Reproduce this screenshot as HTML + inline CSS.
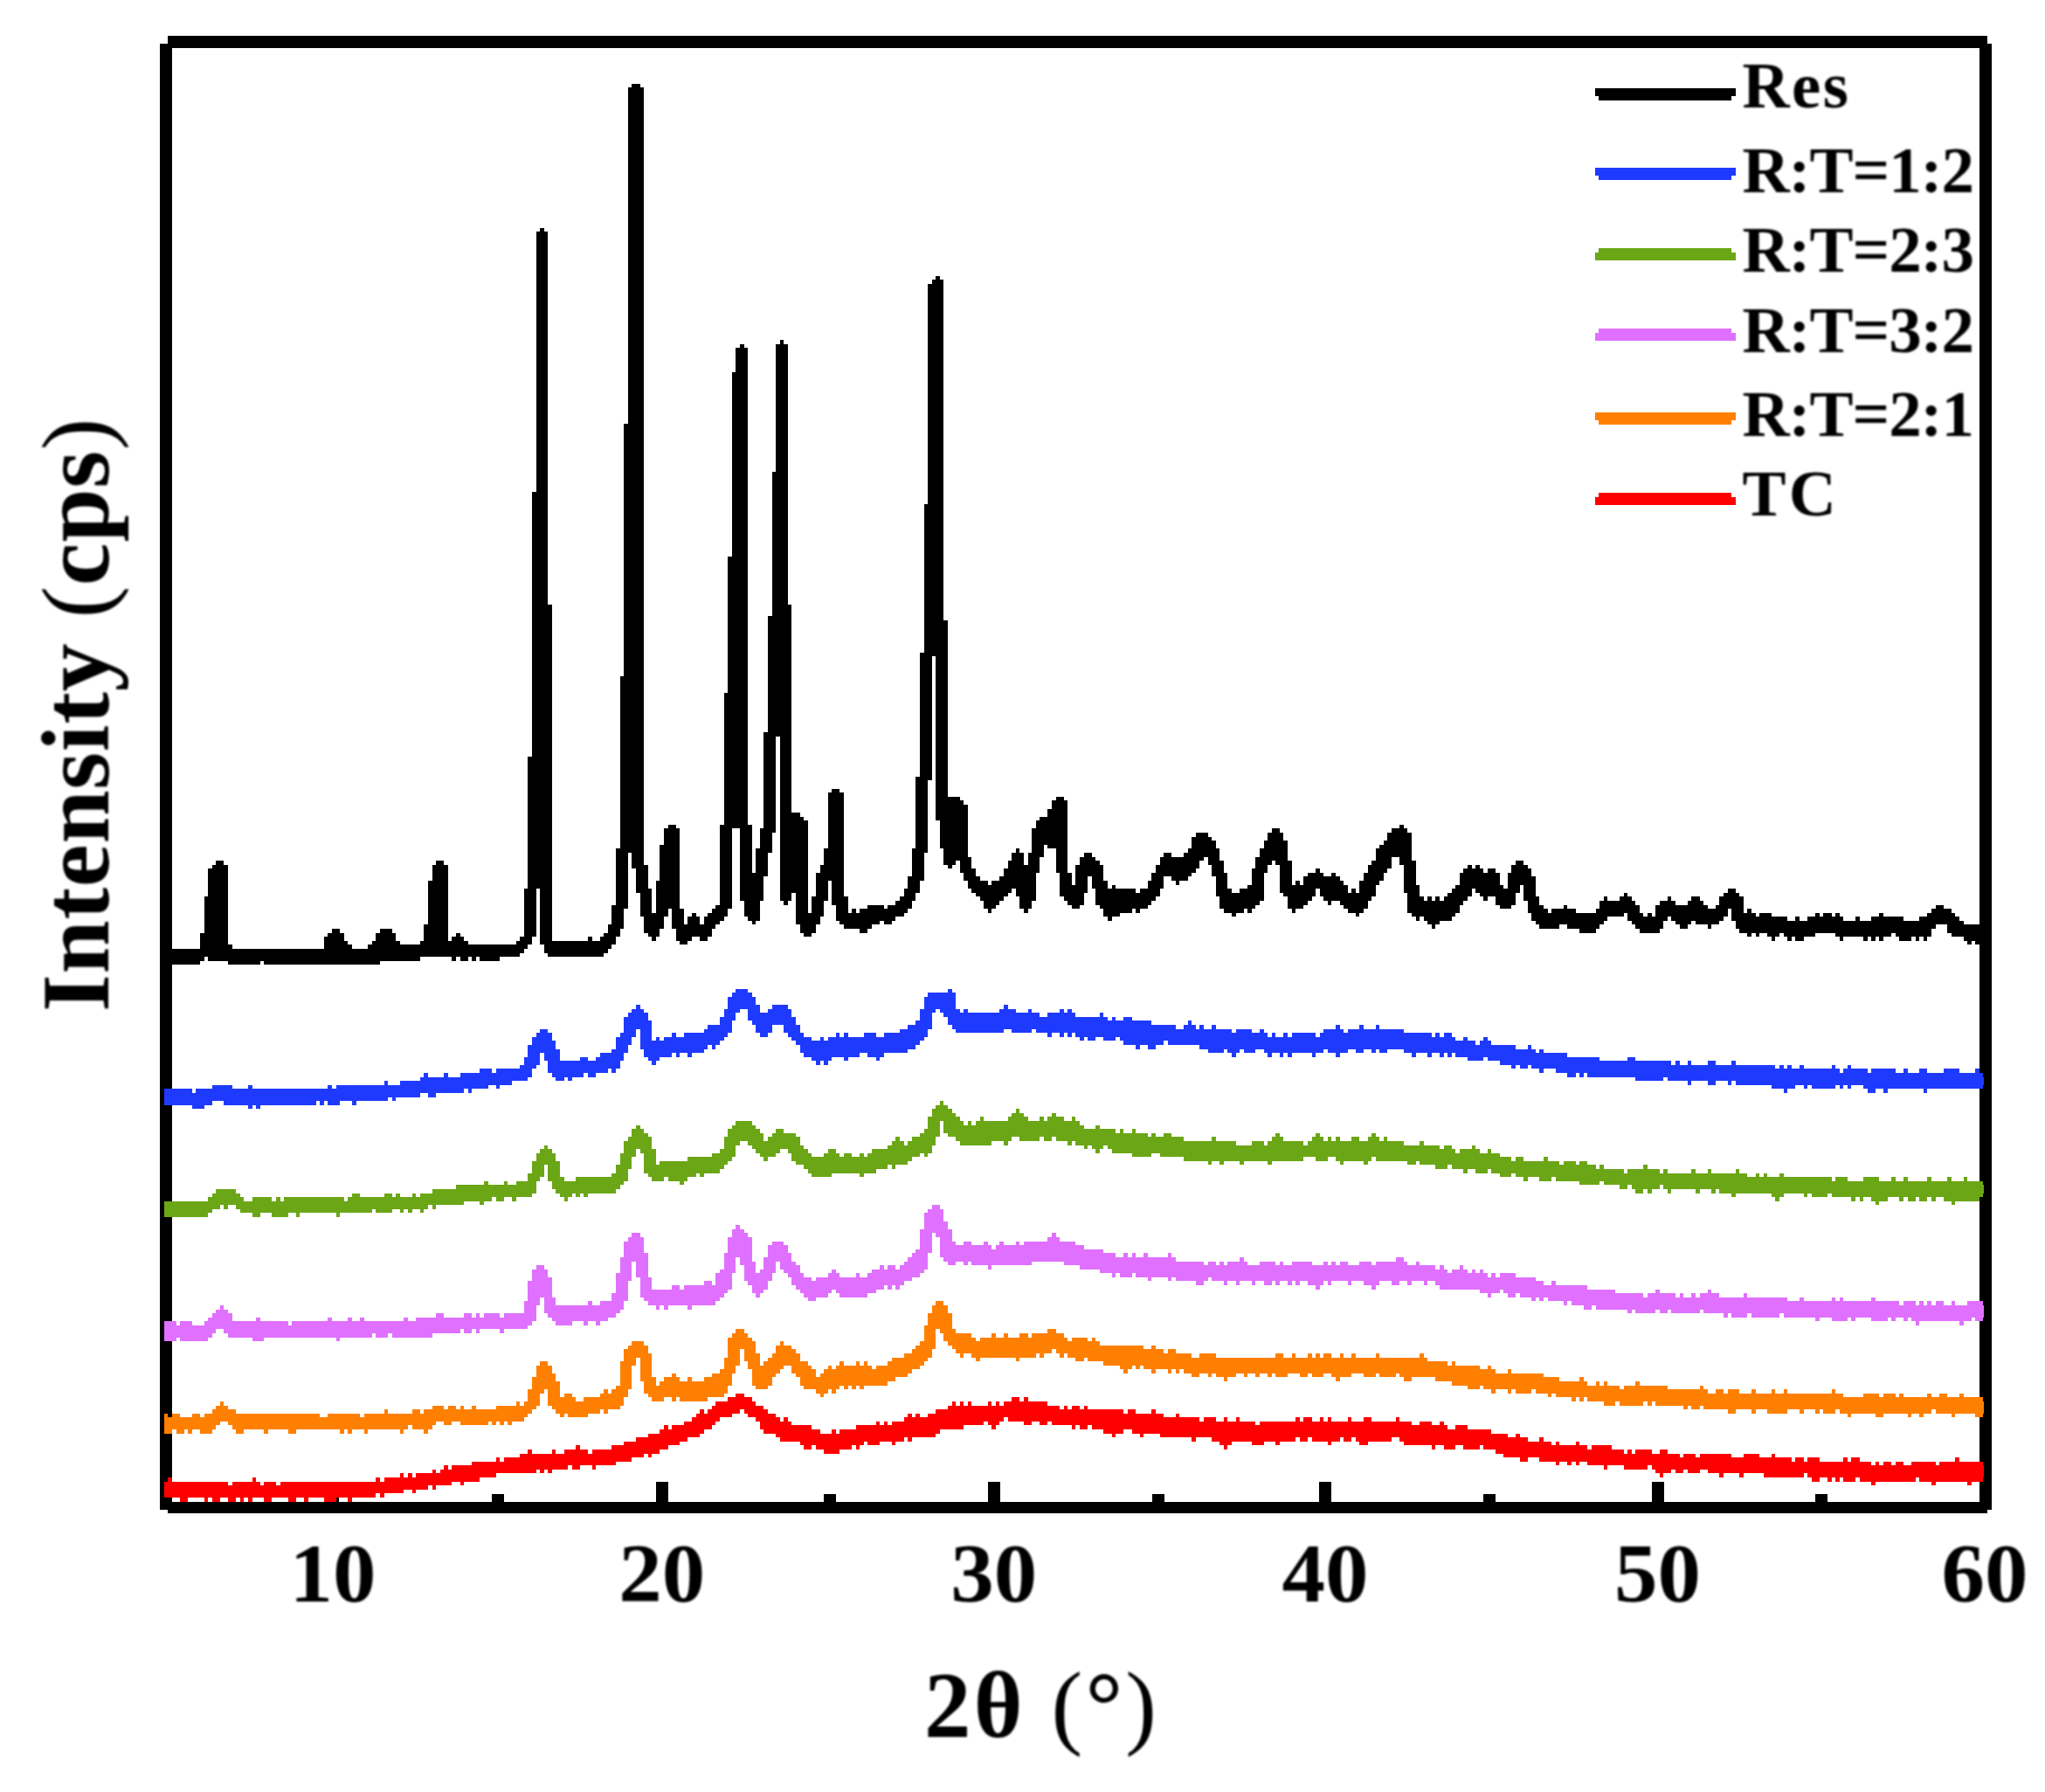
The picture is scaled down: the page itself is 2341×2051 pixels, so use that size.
<!DOCTYPE html>
<html lang="en"><head><meta charset="utf-8"><title>XRD patterns</title>
<style>html,body{margin:0;padding:0;background:#fff;overflow:hidden}svg{display:block}text{font-family:"Liberation Serif","Times New Roman",Times,serif;font-weight:bold;fill:#000;filter:url(#soft)}</style></head>
<body>
<svg width="2341" height="2051" viewBox="0 0 2341 2051">
<defs><filter id="soft" x="-5%" y="-5%" width="110%" height="110%"><feGaussianBlur stdDeviation="1"/></filter></defs>
<rect width="2341" height="2051" fill="#fff"/>
<g fill="#000" shape-rendering="crispEdges">
<rect x="192" y="41" width="2083" height="14"/>
<rect x="192" y="1719" width="2083" height="13"/>
<rect x="183" y="50" width="14" height="1678"/>
<rect x="2266" y="50" width="14" height="1678"/>
<rect x="374" y="1696" width="13.5" height="24"/>
<rect x="751" y="1696" width="13.5" height="24"/>
<rect x="1131" y="1696" width="13.5" height="24"/>
<rect x="1510" y="1696" width="13.5" height="24"/>
<rect x="1891" y="1696" width="13.5" height="24"/>
<rect x="563" y="1710" width="13.5" height="10"/>
<rect x="943" y="1710" width="13.5" height="10"/>
<rect x="1319" y="1710" width="13.5" height="10"/>
<rect x="1698" y="1710" width="13.5" height="10"/>
<rect x="2078" y="1710" width="13.5" height="10"/>
</g>
<g shape-rendering="crispEdges">
<path fill="#000000" d="M723 96h10v898h-10zM719 100h4v876h-4zM733 100h4v949h-4zM618 261h5v820h-5zM614 265h4v752h-4zM623 265h4v826h-4zM1071 316h5v623h-5zM1067 320h4v431h-4zM1076 320h4v651h-4zM1062 325h5v568h-5zM893 389h4v642h-4zM847 394h5v637h-5zM888 394h5v449h-5zM897 394h5v642h-5zM842 398h5v550h-5zM852 398h4v651h-4zM838 426h4v522h-4zM714 485h5v555h-5zM884 540h4v413h-4zM609 563h5v509h-5zM1058 577h4v399h-4zM833 637h5v403h-5zM627 692h5v403h-5zM902 692h4v339h-4zM879 705h5v271h-5zM1080 710h5v280h-5zM1053 747h5v261h-5zM710 774h4v289h-4zM829 793h4v256h-4zM874 838h5v165h-5zM604 866h5v215h-5zM1048 889h5v133h-5zM952 903h9v133h-9zM948 907h4v101h-4zM961 907h5v151h-5zM1085 912h14v73h-14zM1209 912h9v87h-9zM1099 916h4v83h-4zM1204 916h5v55h-5zM1218 916h4v115h-4zM1103 921h5v87h-5zM1199 926h5v45h-5zM906 930h10v92h-10zM916 935h4v133h-4zM1190 935h9v32h-9zM920 939h5v133h-5zM1186 939h4v60h-4zM765 944h9v96h-9zM824 944h5v110h-5zM856 944h5v110h-5zM1602 944h5v46h-5zM760 948h5v101h-5zM774 948h4v129h-4zM870 948h4v83h-4zM1181 948h5v83h-5zM1456 948h9v37h-9zM1593 948h9v33h-9zM1607 948h4v74h-4zM1369 953h14v28h-14zM1451 953h5v37h-5zM1465 953h4v69h-4zM1588 953h5v41h-5zM1611 953h5v92h-5zM1364 958h5v41h-5zM1383 958h4v32h-4zM1387 962h5v41h-5zM1447 962h4v37h-4zM1469 962h5v64h-5zM1584 962h4v37h-4zM755 967h5v96h-5zM1190 967h5v14h-5zM1579 967h5v41h-5zM705 971h5v101h-5zM865 971h5v83h-5zM943 971h5v60h-5zM1044 971h4v60h-4zM1163 971h4v55h-4zM1360 971h4v32h-4zM1392 971h4v55h-4zM1442 971h5v60h-5zM1575 971h4v42h-4zM1158 976h5v41h-5zM1167 976h5v64h-5zM1177 976h4v64h-4zM1241 976h9v27h-9zM1332 976h9v27h-9zM1355 976h5v32h-5zM1108 981h4v36h-4zM1236 981h5v55h-5zM1250 981h4v36h-4zM1328 981h4v36h-4zM1341 981h14v27h-14zM1369 981h9v4h-9zM1437 981h5v55h-5zM247 985h9v115h-9zM499 985h9v110h-9zM1085 985h9v5h-9zM1154 985h4v37h-4zM1254 985h5v51h-5zM1369 985h4v9h-4zM1396 985h5v55h-5zM1460 985h5v5h-5zM1474 985h5v55h-5zM1570 985h5v41h-5zM1616 985h5v64h-5zM1735 985h9v28h-9zM243 990h4v110h-4zM256 990h5v110h-5zM495 990h4v105h-4zM508 990h5v105h-5zM737 990h5v78h-5zM939 990h4v59h-4zM1085 990h5v4h-5zM1172 990h5v55h-5zM1231 990h5v50h-5zM1259 990h4v50h-4zM1323 990h5v36h-5zM1566 990h4v41h-4zM1680 990h5v36h-5zM1689 990h5v32h-5zM1730 990h5v46h-5zM1744 990h5v41h-5zM238 994h5v106h-5zM728 994h5v28h-5zM1112 994h5v28h-5zM1149 994h5v32h-5zM1433 994h4v46h-4zM1506 994h5v23h-5zM1675 994h5v37h-5zM1685 994h4v23h-4zM1694 994h4v32h-4zM1703 994h9v32h-9zM1749 994h4v51h-4zM861 999h4v59h-4zM934 999h5v59h-5zM1213 999h5v27h-5zM1222 999h5v37h-5zM1318 999h5v32h-5zM1401 999h4v46h-4zM1497 999h9v27h-9zM1511 999h4v27h-4zM1524 999h5v32h-5zM1561 999h5v41h-5zM1671 999h4v37h-4zM1698 999h5v32h-5zM1712 999h5v37h-5zM1726 999h4v41h-4zM1039 1003h5v37h-5zM1117 1003h5v23h-5zM1144 1003h5v28h-5zM1241 1003h4v19h-4zM1492 1003h5v33h-5zM1515 1003h9v28h-9zM1529 1003h5v28h-5zM1753 1003h5v51h-5zM490 1008h5v87h-5zM751 1008h4v64h-4zM1122 1008h9v23h-9zM1135 1008h9v28h-9zM1263 1008h5v41h-5zM1314 1008h4v28h-4zM1346 1008h4v5h-4zM1483 1008h5v32h-5zM1534 1008h4v28h-4zM1556 1008h5v37h-5zM1131 1013h4v32h-4zM1227 1013h4v27h-4zM1273 1013h4v36h-4zM1428 1013h5v32h-5zM1479 1013h4v32h-4zM1488 1013h4v27h-4zM1538 1013h5v27h-5zM1621 1013h4v41h-4zM1666 1013h5v32h-5zM1717 1013h4v27h-4zM1735 1013h5v9h-5zM600 1017h4v69h-4zM742 1017h4v55h-4zM1035 1017h4v28h-4zM1268 1017h5v37h-5zM1277 1017h23v23h-23zM1305 1017h9v23h-9zM1405 1017h5v28h-5zM1419 1017h9v23h-9zM1547 1017h5v28h-5zM1662 1017h4v32h-4zM1721 1017h5v23h-5zM1978 1017h9v23h-9zM911 1022h5v36h-5zM1300 1022h5v23h-5zM1410 1022h9v23h-9zM1543 1022h4v23h-4zM1552 1022h4v27h-4zM1657 1022h5v32h-5zM1859 1022h4v23h-4zM1973 1022h5v27h-5zM1987 1022h4v41h-4zM234 1026h4v69h-4zM929 1026h5v42h-5zM966 1026h5v37h-5zM1030 1026h5v23h-5zM1497 1026h5v5h-5zM1625 1026h5v23h-5zM1634 1026h5v32h-5zM1643 1026h5v32h-5zM1653 1026h4v28h-4zM1758 1026h4v32h-4zM1836 1026h4v28h-4zM1854 1026h5v23h-5zM1863 1026h5v28h-5zM1909 1026h4v23h-4zM1936 1026h10v28h-10zM1968 1026h5v28h-5zM1991 1026h5v42h-5zM1025 1031h5v18h-5zM1126 1031h5v9h-5zM1520 1031h4v5h-4zM1630 1031h4v23h-4zM1639 1031h4v32h-4zM1648 1031h5v23h-5zM1831 1031h5v27h-5zM1840 1031h14v18h-14zM1868 1031h4v27h-4zM1900 1031h9v23h-9zM1913 1031h5v23h-5zM1932 1031h4v27h-4zM1946 1031h4v27h-4zM700 1036h5v45h-5zM819 1036h5v22h-5zM957 1036h4v18h-4zM993 1036h19v18h-19zM1016 1036h9v18h-9zM1135 1036h5v4h-5zM1762 1036h5v27h-5zM1790 1036h4v22h-4zM1872 1036h5v27h-5zM1895 1036h5v32h-5zM1918 1036h14v22h-14zM1950 1036h5v22h-5zM1964 1036h4v22h-4zM2216 1036h9v22h-9zM769 1040h5v23h-5zM778 1040h5v41h-5zM815 1040h4v23h-4zM975 1040h5v23h-5zM984 1040h9v28h-9zM1012 1040h4v18h-4zM1277 1040h19v5h-19zM1419 1040h5v5h-5zM1767 1040h5v23h-5zM1776 1040h14v18h-14zM1794 1040h10v23h-10zM1827 1040h4v23h-4zM1955 1040h9v18h-9zM1982 1040h5v14h-5zM2000 1040h5v32h-5zM2211 1040h5v23h-5zM2225 1040h9v18h-9zM746 1045h5v32h-5zM792 1045h5v27h-5zM810 1045h5v27h-5zM925 1045h4v27h-4zM971 1045h4v18h-4zM980 1045h4v18h-4zM1277 1045h5v4h-5zM1410 1045h5v4h-5zM1772 1045h4v18h-4zM1804 1045h23v18h-23zM1877 1045h4v23h-4zM1886 1045h5v23h-5zM1996 1045h4v23h-4zM2005 1045h5v23h-5zM2014 1045h14v23h-14zM2078 1045h5v23h-5zM2087 1045h10v23h-10zM2101 1045h5v27h-5zM2151 1045h5v32h-5zM2206 1045h5v27h-5zM2234 1045h4v27h-4zM787 1049h5v28h-5zM797 1049h4v23h-4zM806 1049h4v28h-4zM1881 1049h5v19h-5zM1891 1049h4v19h-4zM2010 1049h4v23h-4zM2028 1049h18v19h-18zM2055 1049h5v28h-5zM2069 1049h9v23h-9zM2083 1049h4v19h-4zM2097 1049h4v19h-4zM2106 1049h4v28h-4zM2124 1049h5v23h-5zM2142 1049h9v23h-9zM2156 1049h23v19h-23zM2197 1049h9v23h-9zM2238 1049h5v23h-5zM993 1054h14v4h-14zM1016 1054h5v4h-5zM1900 1054h4v9h-4zM1941 1054h5v4h-5zM2046 1054h9v18h-9zM2060 1054h9v18h-9zM2110 1054h14v18h-14zM2129 1054h13v18h-13zM2179 1054h18v18h-18zM2243 1054h5v18h-5zM485 1058h5v37h-5zM696 1058h4v28h-4zM783 1058h4v23h-4zM801 1058h5v19h-5zM993 1058h5v5h-5zM1776 1058h9v5h-9zM1923 1058h9v5h-9zM1955 1058h4v5h-4zM2229 1058h5v10h-5zM2248 1058h20v19h-20zM380 1063h9v41h-9zM435 1063h14v37h-14zM1808 1063h19v5h-19zM229 1068h5v32h-5zM375 1068h5v36h-5zM389 1068h5v36h-5zM430 1068h5v36h-5zM449 1068h4v32h-4zM522 1068h5v27h-5zM691 1068h5v23h-5zM2023 1068h14v4h-14zM2042 1068h4v4h-4zM2156 1068h9v4h-9zM2170 1068h9v4h-9zM371 1072h4v32h-4zM517 1072h5v28h-5zM527 1072h4v28h-4zM595 1072h5v19h-5zM673 1072h5v23h-5zM687 1072h4v23h-4zM2028 1072h4v5h-4zM2046 1072h5v5h-5zM2060 1072h5v5h-5zM2133 1072h5v5h-5zM2142 1072h5v5h-5zM2174 1072h14v5h-14zM2193 1072h4v5h-4zM2202 1072h4v5h-4zM394 1077h4v27h-4zM426 1077h4v27h-4zM453 1077h5v23h-5zM481 1077h4v18h-4zM513 1077h4v18h-4zM531 1077h5v23h-5zM591 1077h4v18h-4zM632 1077h41v18h-41zM678 1077h9v18h-9zM2252 1077h5v4h-5zM2261 1077h5v4h-5zM261 1081h5v23h-5zM398 1081h5v23h-5zM421 1081h5v23h-5zM458 1081h23v19h-23zM536 1081h55v14h-55zM197 1086h32v18h-32zM266 1086h105v14h-105zM403 1086h18v18h-18zM540 1095h5v5h-5zM549 1095h23v5h-23zM266 1100h32v4h-32zM302 1100h69v4h-69z"/>
<path fill="#1F3AFF" d="M842 1132h14v23h-14zM1085 1132h5v41h-5zM838 1136h4v32h-4zM856 1136h5v32h-5zM1062 1136h23v19h-23zM1090 1136h4v42h-4zM833 1141h5v41h-5zM861 1141h4v32h-4zM1058 1141h4v46h-4zM728 1150h5v28h-5zM865 1150h5v32h-5zM884 1150h18v23h-18zM1149 1150h5v28h-5zM723 1155h5v32h-5zM733 1155h4v46h-4zM829 1155h4v32h-4zM842 1155h5v4h-5zM879 1155h5v27h-5zM902 1155h4v32h-4zM1053 1155h5v36h-5zM1062 1155h9v4h-9zM1076 1155h9v4h-9zM1094 1155h5v27h-5zM1103 1155h5v27h-5zM1144 1155h5v27h-5zM1154 1155h9v23h-9zM1177 1155h4v27h-4zM1213 1155h5v32h-5zM1222 1155h5v32h-5zM719 1159h4v37h-4zM737 1159h5v51h-5zM870 1159h9v28h-9zM1062 1159h5v19h-5zM1080 1159h5v5h-5zM1099 1159h4v23h-4zM1108 1159h36v23h-36zM1163 1159h14v23h-14zM1181 1159h9v19h-9zM1199 1159h14v23h-14zM1218 1159h4v23h-4zM1227 1159h4v23h-4zM1259 1159h4v28h-4zM714 1164h5v41h-5zM824 1164h5v27h-5zM906 1164h5v27h-5zM1190 1164h9v18h-9zM1231 1164h28v23h-28zM1263 1164h5v27h-5zM1273 1164h4v27h-4zM1286 1164h10v32h-10zM742 1168h4v46h-4zM1048 1168h5v28h-5zM1268 1168h5v23h-5zM1277 1168h9v19h-9zM1296 1168h22v28h-22zM1360 1168h4v28h-4zM810 1173h14v23h-14zM897 1173h5v9h-5zM911 1173h5v23h-5zM1039 1173h9v28h-9zM1318 1173h28v18h-28zM1355 1173h5v23h-5zM1364 1173h5v23h-5zM1373 1173h5v28h-5zM1387 1173h5v32h-5zM1529 1173h5v37h-5zM1556 1173h5v32h-5zM1575 1173h4v28h-4zM618 1178h9v27h-9zM806 1178h4v23h-4zM1030 1178h9v27h-9zM1158 1178h5v4h-5zM1186 1178h4v4h-4zM1346 1178h9v18h-9zM1369 1178h4v18h-4zM1378 1178h9v23h-9zM1392 1178h18v23h-18zM1415 1178h18v23h-18zM1442 1178h5v23h-5zM1515 1178h14v23h-14zM1534 1178h4v27h-4zM1543 1178h13v23h-13zM1561 1178h14v23h-14zM1579 1178h28v23h-28zM614 1182h4v37h-4zM627 1182h5v46h-5zM710 1182h4v32h-4zM769 1182h5v23h-5zM783 1182h23v23h-23zM916 1182h4v23h-4zM957 1182h4v28h-4zM966 1182h5v32h-5zM989 1182h14v23h-14zM1012 1182h18v23h-18zM1199 1182h5v5h-5zM1410 1182h5v28h-5zM1433 1182h9v19h-9zM1447 1182h4v23h-4zM1456 1182h4v23h-4zM1469 1182h5v23h-5zM1479 1182h27v23h-27zM1511 1182h4v23h-4zM1538 1182h5v23h-5zM1607 1182h32v23h-32zM1643 1182h5v23h-5zM1653 1182h9v23h-9zM609 1187h5v36h-5zM705 1187h5v36h-5zM751 1187h4v27h-4zM760 1187h9v23h-9zM774 1187h9v18h-9zM920 1187h9v23h-9zM939 1187h4v27h-4zM948 1187h9v23h-9zM961 1187h5v23h-5zM971 1187h18v18h-18zM1003 1187h9v23h-9zM1236 1187h5v4h-5zM1245 1187h9v4h-9zM1282 1187h4v4h-4zM1451 1187h5v23h-5zM1460 1187h9v18h-9zM1474 1187h5v23h-5zM1506 1187h5v18h-5zM1639 1187h4v18h-4zM1648 1187h5v23h-5zM1662 1187h4v18h-4zM1675 1187h5v23h-5zM1698 1187h5v23h-5zM632 1191h4v42h-4zM746 1191h5v28h-5zM755 1191h5v19h-5zM929 1191h10v23h-10zM943 1191h5v28h-5zM1318 1191h14v5h-14zM1337 1191h9v5h-9zM1666 1191h9v19h-9zM1680 1191h9v23h-9zM1694 1191h4v23h-4zM1703 1191h4v23h-4zM604 1196h5v37h-5zM815 1196h4v5h-4zM1300 1196h5v5h-5zM1314 1196h9v5h-9zM1689 1196h5v18h-5zM1707 1196h28v18h-28zM1749 1196h4v23h-4zM636 1201h5v36h-5zM700 1201h5v27h-5zM1383 1201h4v4h-4zM1392 1201h9v4h-9zM1405 1201h5v4h-5zM1415 1201h4v4h-4zM1424 1201h13v4h-13zM1520 1201h9v4h-9zM1552 1201h4v4h-4zM1570 1201h5v4h-5zM1579 1201h9v4h-9zM1735 1201h14v18h-14zM1753 1201h5v22h-5zM1762 1201h5v27h-5zM623 1205h4v9h-4zM687 1205h13v18h-13zM774 1205h4v5h-4zM787 1205h5v5h-5zM971 1205h13v5h-13zM993 1205h10v5h-10zM1465 1205h4v5h-4zM1502 1205h4v5h-4zM1616 1205h5v5h-5zM1634 1205h5v5h-5zM1657 1205h5v5h-5zM1758 1205h4v18h-4zM1767 1205h27v18h-27zM600 1210h4v27h-4zM664 1210h9v18h-9zM682 1210h5v18h-5zM948 1210h4v4h-4zM1003 1210h4v4h-4zM1794 1210h37v18h-37zM1863 1210h9v23h-9zM641 1214h23v19h-23zM673 1214h9v19h-9zM934 1214h5v5h-5zM1717 1214h18v5h-18zM1831 1214h32v19h-32zM1872 1214h41v19h-41zM1918 1214h5v23h-5zM1932 1214h4v28h-4zM1955 1214h9v28h-9zM1982 1214h5v23h-5zM595 1219h5v18h-5zM1730 1219h5v4h-5zM1740 1219h9v4h-9zM1913 1219h5v18h-5zM1923 1219h9v18h-9zM1936 1219h19v18h-19zM1964 1219h18v18h-18zM1987 1219h45v23h-45zM2037 1219h5v27h-5zM2046 1219h5v27h-5zM2060 1219h5v23h-5zM2097 1219h4v27h-4zM2115 1219h4v27h-4zM549 1223h14v19h-14zM568 1223h27v14h-27zM687 1223h9v5h-9zM1781 1223h13v5h-13zM2032 1223h5v23h-5zM2042 1223h4v28h-4zM2051 1223h9v19h-9zM2065 1223h32v19h-32zM2101 1223h5v19h-5zM2110 1223h5v19h-5zM2119 1223h19v19h-19zM2142 1223h28v23h-28zM2179 1223h5v23h-5zM2197 1223h9v23h-9zM2225 1223h18v23h-18zM2261 1223h5v23h-5zM485 1228h5v23h-5zM508 1228h5v23h-5zM527 1228h22v18h-22zM563 1228h5v14h-5zM664 1228h4v5h-4zM1794 1228h10v5h-10zM1808 1228h5v5h-5zM1817 1228h14v5h-14zM2106 1228h4v18h-4zM2138 1228h4v23h-4zM2170 1228h9v18h-9zM2184 1228h13v18h-13zM2206 1228h19v18h-19zM2243 1228h18v18h-18zM2266 1228h4v18h-4zM481 1233h4v18h-4zM490 1233h18v18h-18zM513 1233h14v18h-14zM641 1233h5v4h-5zM650 1233h5v4h-5zM1872 1233h32v4h-32zM1909 1233h4v4h-4zM2270 1233h1v9h-1zM440 1237h4v23h-4zM458 1237h23v19h-23zM568 1237h18v5h-18zM1978 1237h4v5h-4zM243 1242h23v18h-23zM284 1242h5v27h-5zM375 1242h5v23h-5zM385 1242h55v18h-55zM444 1242h14v14h-14zM549 1242h10v4h-10zM568 1242h4v4h-4zM2028 1242h4v4h-4zM2051 1242h4v4h-4zM2065 1242h4v4h-4zM2074 1242h23v4h-23zM2133 1242h5v4h-5zM188 1246h32v19h-32zM224 1246h19v19h-19zM266 1246h18v19h-18zM289 1246h86v14h-86zM380 1246h5v19h-5zM527 1246h4v5h-4zM536 1246h4v5h-4zM2142 1246h5v5h-5zM2156 1246h5v5h-5zM2202 1246h4v5h-4zM220 1251h4v18h-4zM490 1251h9v5h-9zM449 1256h4v4h-4zM256 1260h10v5h-10zM289 1260h73v5h-73zM366 1260h5v5h-5zM385 1260h4v5h-4zM403 1260h5v5h-5zM224 1265h10v4h-10zM293 1265h5v4h-5z"/>
<path fill="#6BA616" d="M1076 1260h4v23h-4zM1071 1265h5v36h-5zM1080 1265h5v32h-5zM1067 1269h4v42h-4zM1085 1269h5v32h-5zM1163 1269h4v32h-4zM1090 1274h4v27h-4zM1158 1274h5v27h-5zM1167 1274h5v32h-5zM1204 1274h5v27h-5zM1062 1278h5v42h-5zM1094 1278h5v28h-5zM1122 1278h4v33h-4zM1154 1278h4v28h-4zM1172 1278h5v28h-5zM1190 1278h5v23h-5zM1199 1278h5v28h-5zM1209 1278h9v28h-9zM1227 1278h4v28h-4zM842 1283h19v23h-19zM1099 1283h4v28h-4zM1108 1283h4v28h-4zM1117 1283h5v28h-5zM1126 1283h28v23h-28zM1177 1283h13v23h-13zM1195 1283h4v23h-4zM1218 1283h9v23h-9zM1231 1283h5v28h-5zM728 1288h5v27h-5zM838 1288h4v36h-4zM861 1288h4v27h-4zM1103 1288h5v23h-5zM1112 1288h5v23h-5zM1236 1288h5v23h-5zM1254 1288h5v32h-5zM723 1292h5v32h-5zM733 1292h4v28h-4zM833 1292h5v37h-5zM865 1292h5v28h-5zM888 1292h9v23h-9zM1058 1292h4v32h-4zM1241 1292h13v19h-13zM1259 1292h18v19h-18zM1282 1292h4v28h-4zM1296 1292h4v32h-4zM737 1297h5v46h-5zM870 1297h4v27h-4zM884 1297h4v27h-4zM897 1297h14v18h-14zM1053 1297h5v23h-5zM1277 1297h5v23h-5zM1286 1297h10v23h-10zM1300 1297h14v27h-14zM1318 1297h5v23h-5zM1332 1297h9v27h-9zM1460 1297h5v32h-5zM1506 1297h5v32h-5zM1570 1297h5v27h-5zM719 1301h4v37h-4zM742 1301h4v46h-4zM829 1301h4v32h-4zM879 1301h5v23h-5zM911 1301h5v32h-5zM1025 1301h5v32h-5zM1044 1301h9v23h-9zM1314 1301h4v23h-4zM1323 1301h9v19h-9zM1341 1301h14v23h-14zM1387 1301h5v28h-5zM1456 1301h4v28h-4zM1465 1301h4v28h-4zM1502 1301h4v23h-4zM1511 1301h4v28h-4zM1520 1301h4v23h-4zM1529 1301h5v28h-5zM1547 1301h9v28h-9zM1566 1301h4v28h-4zM1575 1301h4v28h-4zM1584 1301h4v28h-4zM714 1306h5v46h-5zM842 1306h5v5h-5zM856 1306h5v5h-5zM874 1306h5v23h-5zM1021 1306h4v32h-4zM1030 1306h5v27h-5zM1039 1306h5v23h-5zM1126 1306h9v5h-9zM1149 1306h5v5h-5zM1222 1306h5v5h-5zM1355 1306h32v23h-32zM1392 1306h23v23h-23zM1433 1306h14v23h-14zM1451 1306h5v27h-5zM1469 1306h23v23h-23zM1497 1306h5v18h-5zM1515 1306h5v23h-5zM1524 1306h5v18h-5zM1534 1306h13v23h-13zM1556 1306h10v23h-10zM1579 1306h5v23h-5zM1588 1306h19v23h-19zM1625 1306h5v27h-5zM623 1311h4v22h-4zM916 1311h4v22h-4zM1016 1311h5v22h-5zM1035 1311h4v22h-4zM1241 1311h4v4h-4zM1250 1311h4v4h-4zM1259 1311h4v4h-4zM1268 1311h9v4h-9zM1415 1311h18v18h-18zM1447 1311h4v18h-4zM1492 1311h5v13h-5zM1607 1311h18v18h-18zM1630 1311h18v22h-18zM1653 1311h9v22h-9zM1685 1311h4v27h-4zM618 1315h5v32h-5zM627 1315h5v37h-5zM746 1315h5v37h-5zM824 1315h5v23h-5zM888 1315h5v5h-5zM902 1315h9v5h-9zM920 1315h5v23h-5zM948 1315h9v28h-9zM998 1315h18v23h-18zM1273 1315h4v5h-4zM1648 1315h5v23h-5zM1662 1315h4v23h-4zM1671 1315h14v23h-14zM1689 1315h5v28h-5zM1703 1315h4v23h-4zM614 1320h4v32h-4zM632 1320h4v41h-4zM710 1320h4v36h-4zM815 1320h9v23h-9zM906 1320h5v9h-5zM925 1320h4v23h-4zM943 1320h5v27h-5zM957 1320h4v23h-4zM966 1320h9v23h-9zM984 1320h5v27h-5zM993 1320h5v23h-5zM1328 1320h4v4h-4zM1666 1320h5v18h-5zM1694 1320h9v23h-9zM1707 1320h10v23h-10zM787 1324h28v19h-28zM929 1324h14v23h-14zM961 1324h5v19h-5zM975 1324h9v19h-9zM989 1324h4v19h-4zM1717 1324h13v23h-13zM1735 1324h9v23h-9zM1767 1324h5v28h-5zM609 1329h5v37h-5zM636 1329h5v37h-5zM755 1329h32v18h-32zM1383 1329h4v4h-4zM1396 1329h5v4h-5zM1419 1329h5v4h-5zM1534 1329h4v4h-4zM1561 1329h5v4h-5zM1611 1329h10v4h-10zM1730 1329h5v14h-5zM1744 1329h23v18h-23zM1772 1329h13v18h-13zM1790 1329h14v23h-14zM1808 1329h9v27h-9zM705 1333h5v28h-5zM751 1333h4v19h-4zM1643 1333h5v5h-5zM1653 1333h4v5h-4zM1785 1333h5v19h-5zM1804 1333h4v19h-4zM1817 1333h10v23h-10zM1831 1333h5v19h-5zM1881 1333h5v28h-5zM998 1338h5v5h-5zM1675 1338h5v5h-5zM1827 1338h4v18h-4zM1836 1338h23v18h-23zM1863 1338h18v18h-18zM1886 1338h14v23h-14zM1904 1338h5v23h-5zM1936 1338h5v23h-5zM1955 1338h4v23h-4zM1987 1338h4v28h-4zM604 1343h5v27h-5zM700 1343h5v23h-5zM787 1343h10v4h-10zM801 1343h5v4h-5zM948 1343h4v4h-4zM1859 1343h4v18h-4zM1900 1343h4v13h-4zM1909 1343h27v18h-27zM1941 1343h14v18h-14zM1959 1343h28v18h-28zM1991 1343h9v23h-9zM2010 1343h4v23h-4zM2019 1343h4v23h-4zM2037 1343h5v27h-5zM641 1347h5v23h-5zM659 1347h41v19h-41zM755 1347h5v5h-5zM765 1347h22v5h-22zM1744 1347h5v5h-5zM1762 1347h5v5h-5zM1772 1347h4v5h-4zM1781 1347h4v5h-4zM2000 1347h10v19h-10zM2014 1347h5v19h-5zM2023 1347h14v19h-14zM2042 1347h55v19h-55zM2101 1347h14v23h-14zM2133 1347h18v23h-18zM2165 1347h5v23h-5zM2179 1347h5v23h-5zM2206 1347h5v23h-5zM2229 1347h5v28h-5zM2248 1347h4v28h-4zM554 1352h5v23h-5zM577 1352h4v18h-4zM591 1352h13v18h-13zM646 1352h13v14h-13zM778 1352h5v4h-5zM2097 1352h4v18h-4zM2115 1352h18v18h-18zM2151 1352h14v18h-14zM2170 1352h9v18h-9zM2184 1352h22v18h-22zM2211 1352h18v18h-18zM2234 1352h14v23h-14zM2252 1352h18v18h-18zM522 1356h32v19h-32zM559 1356h18v14h-18zM581 1356h10v14h-10zM1854 1356h5v5h-5zM1868 1356h13v5h-13zM2270 1356h1v10h-1zM247 1361h23v18h-23zM495 1361h27v18h-27zM1872 1361h9v5h-9zM1886 1361h5v5h-5zM1909 1361h4v5h-4zM1941 1361h5v5h-5zM1959 1361h5v5h-5zM1968 1361h19v5h-19zM243 1366h4v18h-4zM270 1366h5v18h-5zM403 1366h9v22h-9zM440 1366h9v22h-9zM453 1366h5v18h-5zM472 1366h4v18h-4zM481 1366h14v13h-14zM646 1366h9v4h-9zM659 1366h5v4h-5zM668 1366h5v4h-5zM1982 1366h5v4h-5zM2028 1366h9v4h-9zM2065 1366h4v4h-4zM2074 1366h18v4h-18zM238 1370h5v18h-5zM275 1370h4v18h-4zM289 1370h22v18h-22zM316 1370h5v23h-5zM325 1370h69v18h-69zM398 1370h5v18h-5zM412 1370h28v14h-28zM449 1370h4v14h-4zM458 1370h14v14h-14zM476 1370h5v14h-5zM559 1370h4v5h-4zM568 1370h9v5h-9zM586 1370h5v5h-5zM646 1370h4v5h-4zM2032 1370h5v5h-5zM2119 1370h5v5h-5zM2129 1370h4v5h-4zM2142 1370h19v5h-19zM2174 1370h5v5h-5zM2184 1370h9v5h-9zM2197 1370h9v5h-9zM2211 1370h5v5h-5zM2225 1370h4v5h-4zM2252 1370h14v5h-14zM188 1375h50v18h-50zM279 1375h10v13h-10zM311 1375h5v18h-5zM321 1375h4v18h-4zM394 1375h4v13h-4zM522 1375h9v4h-9zM549 1375h5v4h-5zM2147 1375h4v4h-4zM2234 1375h4v4h-4zM247 1379h5v5h-5zM256 1379h5v5h-5zM481 1379h9v5h-9zM495 1379h4v5h-4zM412 1384h14v4h-14zM430 1384h10v4h-10zM458 1384h4v4h-4zM467 1384h5v4h-5zM481 1384h4v4h-4zM289 1388h9v5h-9zM325 1388h5v5h-5zM339 1388h4v5h-4zM385 1388h4v5h-4z"/>
<path fill="#E070FF" d="M1067 1379h9v32h-9zM1062 1384h5v50h-5zM1076 1384h4v55h-4zM1058 1388h4v65h-4zM1080 1398h5v46h-5zM842 1402h5v37h-5zM838 1407h4v50h-4zM847 1407h5v41h-5zM1053 1407h5v50h-5zM1085 1407h5v41h-5zM723 1411h10v33h-10zM852 1411h4v55h-4zM1071 1411h5v5h-5zM1204 1411h5v33h-5zM719 1416h4v50h-4zM733 1416h4v69h-4zM833 1416h5v60h-5zM856 1416h5v55h-5zM1199 1416h5v28h-5zM1209 1416h4v28h-4zM714 1421h5v68h-5zM884 1421h13v23h-13zM1090 1421h4v27h-4zM1103 1421h9v23h-9zM1126 1421h5v27h-5zM1144 1421h5v27h-5zM1163 1421h4v27h-4zM1172 1421h27v23h-27zM1213 1421h18v23h-18zM879 1425h5v41h-5zM897 1425h5v32h-5zM1094 1425h9v19h-9zM1112 1425h14v23h-14zM1131 1425h4v28h-4zM1140 1425h4v23h-4zM1149 1425h14v23h-14zM1167 1425h5v23h-5zM1231 1425h10v23h-10zM1048 1430h5v32h-5zM1135 1430h5v18h-5zM1241 1430h22v23h-22zM737 1434h5v55h-5zM829 1434h4v46h-4zM902 1434h4v28h-4zM1044 1434h4v28h-4zM1263 1434h14v23h-14zM1286 1434h5v28h-5zM1296 1434h4v23h-4zM1309 1434h5v28h-5zM1337 1434h4v32h-4zM710 1439h4v60h-4zM874 1439h5v37h-5zM1039 1439h5v27h-5zM1277 1439h9v18h-9zM1291 1439h5v23h-5zM1300 1439h9v23h-9zM1314 1439h23v23h-23zM1341 1439h5v23h-5zM1419 1439h5v27h-5zM1598 1439h9v27h-9zM728 1444h5v18h-5zM861 1444h4v36h-4zM884 1444h4v13h-4zM893 1444h4v9h-4zM906 1444h5v27h-5zM1035 1444h4v22h-4zM1103 1444h5v4h-5zM1172 1444h9v4h-9zM1218 1444h13v4h-13zM1346 1444h32v22h-32zM1383 1444h9v18h-9zM1396 1444h5v22h-5zM1405 1444h14v22h-14zM1424 1444h4v22h-4zM1442 1444h18v22h-18zM1465 1444h4v22h-4zM1479 1444h23v22h-23zM1515 1444h5v22h-5zM1524 1444h5v22h-5zM1534 1444h9v22h-9zM1556 1444h14v22h-14zM1575 1444h23v22h-23zM1607 1444h4v22h-4zM1621 1444h4v22h-4zM614 1448h9v37h-9zM911 1448h5v28h-5zM1007 1448h5v28h-5zM1016 1448h9v23h-9zM1030 1448h5v23h-5zM1236 1448h5v5h-5zM1378 1448h5v18h-5zM1392 1448h4v18h-4zM1401 1448h4v23h-4zM1428 1448h14v18h-14zM1460 1448h5v23h-5zM1469 1448h10v18h-10zM1502 1448h13v23h-13zM1520 1448h4v23h-4zM1529 1448h5v18h-5zM1543 1448h13v18h-13zM1570 1448h5v28h-5zM1611 1448h10v18h-10zM1625 1448h18v18h-18zM1648 1448h5v28h-5zM1671 1448h4v28h-4zM609 1453h5v59h-5zM623 1453h4v50h-4zM824 1453h5v32h-5zM870 1453h4v27h-4zM952 1453h5v23h-5zM998 1453h9v23h-9zM1012 1453h4v18h-4zM1025 1453h5v23h-5zM1259 1453h4v4h-4zM1643 1453h5v18h-5zM1653 1453h4v23h-4zM1662 1453h9v23h-9zM1675 1453h5v23h-5zM1685 1453h4v23h-4zM1694 1453h4v27h-4zM705 1457h5v46h-5zM819 1457h5v32h-5zM865 1457h5v28h-5zM916 1457h4v23h-4zM948 1457h4v23h-4zM957 1457h4v23h-4zM980 1457h4v28h-4zM993 1457h5v23h-5zM1273 1457h4v5h-4zM1282 1457h4v5h-4zM1657 1457h5v19h-5zM1680 1457h5v19h-5zM1689 1457h5v19h-5zM1698 1457h5v23h-5zM1707 1457h5v23h-5zM1717 1457h18v19h-18zM627 1462h5v46h-5zM742 1462h4v32h-4zM920 1462h9v23h-9zM934 1462h14v23h-14zM961 1462h19v23h-19zM984 1462h9v23h-9zM1314 1462h4v4h-4zM1387 1462h5v4h-5zM1703 1462h4v23h-4zM1712 1462h5v18h-5zM1735 1462h23v18h-23zM604 1466h5v51h-5zM806 1466h9v28h-9zM929 1466h5v23h-5zM1369 1466h9v5h-9zM1415 1466h4v5h-4zM1433 1466h4v5h-4zM1447 1466h9v5h-9zM1474 1466h5v5h-5zM1483 1466h5v5h-5zM1497 1466h5v5h-5zM1543 1466h4v5h-4zM1561 1466h9v5h-9zM1575 1466h4v5h-4zM1593 1466h9v5h-9zM1611 1466h5v5h-5zM1630 1466h4v5h-4zM1758 1466h9v19h-9zM1776 1466h5v23h-5zM769 1471h9v23h-9zM783 1471h23v23h-23zM815 1471h4v23h-4zM1016 1471h5v5h-5zM1506 1471h5v5h-5zM1767 1471h9v14h-9zM1781 1471h36v18h-36zM746 1476h23v18h-23zM778 1476h5v18h-5zM998 1476h5v4h-5zM1721 1476h14v4h-14zM1817 1476h32v18h-32zM1895 1476h5v23h-5zM1955 1476h4v27h-4zM700 1480h5v28h-5zM1726 1480h9v5h-9zM1740 1480h18v5h-18zM1849 1480h32v19h-32zM1886 1480h9v23h-9zM1900 1480h18v19h-18zM1923 1480h4v23h-4zM1936 1480h5v23h-5zM1946 1480h9v19h-9zM1959 1480h9v23h-9zM1996 1480h4v28h-4zM614 1485h4v9h-4zM632 1485h4v27h-4zM925 1485h4v4h-4zM1753 1485h5v4h-5zM1762 1485h5v4h-5zM1772 1485h4v4h-4zM1881 1485h5v18h-5zM1918 1485h5v18h-5zM1927 1485h9v18h-9zM1941 1485h5v18h-5zM1968 1485h28v18h-28zM2000 1485h46v18h-46zM2060 1485h5v23h-5zM2097 1485h4v27h-4zM2106 1485h4v27h-4zM2142 1485h5v27h-5zM600 1489h4v32h-4zM673 1489h5v23h-5zM687 1489h13v19h-13zM1790 1489h4v5h-4zM1799 1489h18v5h-18zM2046 1489h14v19h-14zM2065 1489h32v19h-32zM2101 1489h5v23h-5zM2110 1489h32v19h-32zM2147 1489h27v19h-27zM2179 1489h14v19h-14zM2197 1489h5v23h-5zM2206 1489h5v23h-5zM2216 1489h9v23h-9zM2234 1489h4v23h-4zM2252 1489h18v19h-18zM252 1494h4v27h-4zM636 1494h37v18h-37zM678 1494h9v18h-9zM751 1494h4v5h-4zM760 1494h5v5h-5zM787 1494h5v5h-5zM1813 1494h9v5h-9zM1827 1494h22v5h-22zM2174 1494h5v14h-5zM2193 1494h4v23h-4zM2202 1494h4v18h-4zM2211 1494h5v18h-5zM2225 1494h9v18h-9zM2238 1494h14v18h-14zM2270 1494h1v14h-1zM247 1499h5v22h-5zM256 1499h5v27h-5zM1863 1499h5v4h-5zM1872 1499h9v4h-9zM1900 1499h9v4h-9zM1913 1499h5v4h-5zM1950 1499h5v4h-5zM243 1503h4v23h-4zM261 1503h5v28h-5zM499 1503h9v23h-9zM531 1503h9v23h-9zM545 1503h4v23h-4zM554 1503h18v18h-18zM577 1503h23v18h-23zM1973 1503h5v5h-5zM1982 1503h14v5h-14zM2005 1503h32v5h-32zM2042 1503h4v5h-4zM238 1508h5v23h-5zM293 1508h5v27h-5zM375 1508h5v23h-5zM398 1508h5v23h-5zM412 1508h5v23h-5zM462 1508h5v23h-5zM476 1508h23v18h-23zM508 1508h23v13h-23zM540 1508h5v13h-5zM549 1508h5v13h-5zM572 1508h5v18h-5zM687 1508h9v4h-9zM2078 1508h5v4h-5zM2110 1508h5v4h-5zM2119 1508h5v4h-5zM2147 1508h14v4h-14zM2165 1508h5v4h-5zM2179 1508h5v4h-5zM2188 1508h5v4h-5zM2252 1508h5v4h-5zM2261 1508h9v4h-9zM188 1512h14v23h-14zM206 1512h14v23h-14zM234 1512h4v23h-4zM266 1512h27v19h-27zM298 1512h32v19h-32zM334 1512h41v19h-41zM380 1512h18v19h-18zM403 1512h9v19h-9zM417 1512h45v14h-45zM467 1512h9v19h-9zM636 1512h19v5h-19zM668 1512h5v5h-5zM682 1512h5v5h-5zM2243 1512h5v5h-5zM202 1517h4v14h-4zM220 1517h14v18h-14zM330 1517h4v14h-4zM508 1521h19v5h-19zM417 1526h9v5h-9zM430 1526h14v5h-14zM449 1526h13v5h-13zM476 1526h19v5h-19zM289 1531h4v4h-4zM298 1531h4v4h-4zM385 1531h4v4h-4z"/>
<path fill="#FF8000" d="M1071 1489h9v32h-9zM1067 1494h4v50h-4zM1080 1494h5v41h-5zM1062 1503h5v51h-5zM1085 1503h5v37h-5zM1058 1517h4v41h-4zM842 1521h10v23h-10zM1076 1521h4v5h-4zM1090 1521h4v23h-4zM1199 1521h10v23h-10zM838 1526h4v46h-4zM852 1526h4v32h-4zM1094 1526h18v23h-18zM1135 1526h5v28h-5zM1149 1526h5v28h-5zM1167 1526h10v28h-10zM1181 1526h18v23h-18zM1209 1526h9v23h-9zM833 1531h5v55h-5zM856 1531h5v36h-5zM1112 1531h5v23h-5zM1122 1531h13v23h-13zM1140 1531h9v23h-9zM1154 1531h13v23h-13zM1177 1531h4v23h-4zM1218 1531h4v18h-4zM1227 1531h18v23h-18zM1250 1531h4v27h-4zM723 1535h14v19h-14zM861 1535h4v51h-4zM893 1535h4v32h-4zM1053 1535h5v28h-5zM1117 1535h5v23h-5zM1222 1535h5v19h-5zM1245 1535h5v23h-5zM1254 1535h5v23h-5zM719 1540h4v50h-4zM737 1540h5v55h-5zM888 1540h5v32h-5zM897 1540h9v23h-9zM1048 1540h5v27h-5zM1259 1540h50v18h-50zM1318 1540h5v32h-5zM714 1544h5v55h-5zM842 1544h5v19h-5zM906 1544h5v28h-5zM1044 1544h4v23h-4zM1199 1544h5v5h-5zM1309 1544h9v23h-9zM1323 1544h9v23h-9zM1337 1544h9v23h-9zM742 1549h4v50h-4zM865 1549h5v41h-5zM884 1549h4v27h-4zM911 1549h5v27h-5zM1035 1549h9v23h-9zM1099 1549h4v5h-4zM1181 1549h5v5h-5zM1190 1549h5v5h-5zM1213 1549h5v5h-5zM1332 1549h5v18h-5zM1346 1549h18v18h-18zM1373 1549h19v23h-19zM1460 1549h9v27h-9zM1479 1549h4v23h-4zM1497 1549h5v23h-5zM1506 1549h5v27h-5zM1515 1549h9v23h-9zM1534 1549h4v27h-4zM1547 1549h5v23h-5zM1575 1549h4v23h-4zM1625 1549h5v27h-5zM723 1554h5v9h-5zM733 1554h4v27h-4zM829 1554h4v41h-4zM879 1554h5v32h-5zM1021 1554h14v22h-14zM1163 1554h4v4h-4zM1231 1554h10v4h-10zM1364 1554h9v22h-9zM1392 1554h68v18h-68zM1469 1554h10v18h-10zM1483 1554h14v18h-14zM1502 1554h4v22h-4zM1511 1554h4v22h-4zM1524 1554h10v22h-10zM1538 1554h9v22h-9zM1552 1554h23v18h-23zM1579 1554h46v18h-46zM1630 1554h4v22h-4zM618 1558h9v32h-9zM710 1558h4v51h-4zM874 1558h5v32h-5zM916 1558h9v28h-9zM961 1558h5v28h-5zM980 1558h4v28h-4zM989 1558h4v28h-4zM1016 1558h5v23h-5zM1263 1558h46v5h-46zM1634 1558h23v18h-23zM1662 1558h4v28h-4zM614 1563h4v46h-4zM627 1563h5v46h-5zM870 1563h4v27h-4zM925 1563h4v27h-4zM948 1563h4v27h-4zM957 1563h4v27h-4zM966 1563h14v23h-14zM984 1563h5v27h-5zM993 1563h5v23h-5zM1003 1563h13v23h-13zM1282 1563h14v4h-14zM1300 1563h5v4h-5zM1657 1563h5v18h-5zM1666 1563h28v23h-28zM1703 1563h4v27h-4zM824 1567h5v32h-5zM929 1567h5v23h-5zM943 1567h5v28h-5zM952 1567h5v28h-5zM998 1567h5v19h-5zM1286 1567h5v5h-5zM1337 1567h4v5h-4zM1346 1567h4v5h-4zM1355 1567h9v5h-9zM1694 1567h9v19h-9zM1707 1567h5v28h-5zM1726 1567h4v28h-4zM632 1572h4v41h-4zM769 1572h5v32h-5zM815 1572h9v27h-9zM939 1572h4v27h-4zM1035 1572h4v4h-4zM1383 1572h4v4h-4zM1392 1572h23v4h-23zM1424 1572h4v4h-4zM1437 1572h5v4h-5zM1451 1572h5v4h-5zM1469 1572h5v4h-5zM1488 1572h9v4h-9zM1561 1572h14v4h-14zM1579 1572h19v4h-19zM1602 1572h23v4h-23zM1712 1572h14v18h-14zM1730 1572h37v18h-37zM609 1576h5v37h-5zM746 1576h5v28h-5zM760 1576h9v23h-9zM774 1576h4v23h-4zM787 1576h5v28h-5zM806 1576h9v23h-9zM934 1576h5v19h-5zM1021 1576h4v5h-4zM1401 1576h4v5h-4zM1529 1576h5v5h-5zM1607 1576h9v5h-9zM1643 1576h14v5h-14zM1767 1576h18v19h-18zM1808 1576h5v28h-5zM636 1581h5v37h-5zM755 1581h5v23h-5zM778 1581h9v23h-9zM792 1581h14v23h-14zM1785 1581h23v18h-23zM1813 1581h4v18h-4zM1827 1581h4v23h-4zM1836 1581h4v28h-4zM1872 1581h5v28h-5zM705 1586h5v27h-5zM751 1586h4v18h-4zM920 1586h5v4h-5zM966 1586h5v4h-5zM975 1586h5v4h-5zM1680 1586h14v4h-14zM1698 1586h5v4h-5zM1817 1586h10v18h-10zM1831 1586h5v18h-5zM1840 1586h14v18h-14zM1859 1586h13v23h-13zM1877 1586h32v18h-32zM1946 1586h4v23h-4zM604 1590h5v28h-5zM618 1590h5v5h-5zM691 1590h5v28h-5zM700 1590h5v23h-5zM1735 1590h18v5h-18zM1758 1590h9v5h-9zM1854 1590h5v19h-5zM1909 1590h37v19h-37zM1950 1590h5v23h-5zM1964 1590h9v23h-9zM1978 1590h13v23h-13zM2005 1590h5v28h-5zM2028 1590h4v28h-4zM2042 1590h4v28h-4zM2097 1590h4v28h-4zM646 1595h9v23h-9zM687 1595h4v18h-4zM696 1595h4v18h-4zM1772 1595h4v4h-4zM1781 1595h4v4h-4zM1955 1595h9v18h-9zM1973 1595h5v18h-5zM1991 1595h14v18h-14zM2010 1595h18v18h-18zM2032 1595h10v23h-10zM2046 1595h51v18h-51zM2101 1595h9v18h-9zM2133 1595h18v23h-18zM2156 1595h14v23h-14zM2174 1595h5v23h-5zM2206 1595h5v23h-5zM2220 1595h9v23h-9zM2243 1595h5v23h-5zM641 1599h5v23h-5zM655 1599h4v23h-4zM668 1599h19v19h-19zM806 1599h4v5h-4zM1799 1599h5v5h-5zM2110 1599h23v19h-23zM2151 1599h5v23h-5zM2170 1599h4v19h-4zM2179 1599h27v19h-27zM2211 1599h9v14h-9zM2229 1599h14v19h-14zM2248 1599h22v19h-22zM252 1604h4v23h-4zM591 1604h4v23h-4zM600 1604h4v18h-4zM659 1604h9v18h-9zM1840 1604h9v5h-9zM1877 1604h4v5h-4zM1886 1604h5v5h-5zM1895 1604h14v5h-14zM2270 1604h1v14h-1zM247 1609h5v22h-5zM256 1609h5v18h-5zM495 1609h13v18h-13zM513 1609h9v18h-9zM527 1609h4v22h-4zM540 1609h5v22h-5zM568 1609h23v18h-23zM595 1609h5v18h-5zM1927 1609h5v4h-5zM1936 1609h10v4h-10zM243 1613h4v23h-4zM261 1613h9v18h-9zM440 1613h4v23h-4zM472 1613h9v23h-9zM485 1613h10v23h-10zM508 1613h5v18h-5zM522 1613h5v14h-5zM531 1613h9v18h-9zM545 1613h23v14h-23zM1978 1613h9v5h-9zM2023 1613h5v5h-5zM2060 1613h5v5h-5zM2078 1613h5v5h-5zM2087 1613h10v5h-10zM2106 1613h4v5h-4zM2216 1613h4v5h-4zM188 1618h4v23h-4zM197 1618h9v18h-9zM220 1618h9v18h-9zM234 1618h9v23h-9zM270 1618h96v18h-96zM375 1618h37v18h-37zM417 1618h23v18h-23zM444 1618h28v13h-28zM481 1618h4v18h-4zM650 1618h5v4h-5zM668 1618h5v4h-5zM2115 1618h4v4h-4zM2147 1618h4v4h-4zM2184 1618h4v4h-4zM2197 1618h5v4h-5zM2234 1618h4v4h-4zM2261 1618h9v4h-9zM192 1622h5v19h-5zM206 1622h14v14h-14zM229 1622h5v19h-5zM366 1622h9v14h-9zM412 1622h5v14h-5zM495 1627h4v4h-4zM513 1627h4v4h-4zM545 1627h14v4h-14zM563 1627h5v4h-5zM572 1627h5v4h-5zM581 1627h5v4h-5zM266 1631h4v5h-4zM444 1631h23v5h-23zM202 1636h9v5h-9zM215 1636h5v5h-5zM270 1636h9v5h-9zM302 1636h5v5h-5zM330 1636h9v5h-9zM389 1636h5v5h-5zM398 1636h5v5h-5zM417 1636h4v5h-4zM458 1636h4v5h-4zM485 1636h5v5h-5z"/>
<path fill="#FF0000" d="M842 1595h10v18h-10zM833 1599h9v19h-9zM852 1599h9v19h-9zM1158 1599h9v28h-9zM1172 1599h5v32h-5zM819 1604h14v18h-14zM861 1604h4v18h-4zM1090 1604h4v32h-4zM1099 1604h4v32h-4zM1108 1604h4v27h-4zM1131 1604h4v27h-4zM1140 1604h4v27h-4zM1149 1604h9v18h-9zM1167 1604h5v23h-5zM1177 1604h22v23h-22zM815 1609h4v22h-4zM865 1609h9v18h-9zM1085 1609h5v27h-5zM1094 1609h5v27h-5zM1103 1609h5v22h-5zM1112 1609h19v18h-19zM1135 1609h5v27h-5zM1144 1609h5v18h-5zM1199 1609h14v18h-14zM1218 1609h4v22h-4zM1227 1609h9v22h-9zM1241 1609h4v27h-4zM801 1613h5v28h-5zM810 1613h5v23h-5zM842 1613h5v5h-5zM874 1613h5v28h-5zM1071 1613h14v23h-14zM1213 1613h5v18h-5zM1222 1613h5v18h-5zM1236 1613h5v23h-5zM1245 1613h41v18h-41zM1291 1613h9v23h-9zM1318 1613h5v28h-5zM797 1618h4v27h-4zM806 1618h4v18h-4zM833 1618h5v4h-5zM856 1618h5v4h-5zM879 1618h9v23h-9zM1039 1618h5v32h-5zM1048 1618h5v27h-5zM1062 1618h9v27h-9zM1286 1618h5v18h-5zM1300 1618h18v23h-18zM1323 1618h9v23h-9zM1346 1618h4v27h-4zM792 1622h5v23h-5zM819 1622h5v5h-5zM888 1622h5v23h-5zM897 1622h5v28h-5zM1035 1622h4v23h-4zM1044 1622h4v23h-4zM1053 1622h9v23h-9zM1154 1622h4v5h-4zM1332 1622h14v23h-14zM1350 1622h23v23h-23zM1378 1622h14v23h-14zM1401 1622h4v37h-4zM1415 1622h4v28h-4zM1483 1622h5v23h-5zM1492 1622h10v23h-10zM1511 1622h4v28h-4zM1520 1622h4v32h-4zM1543 1622h4v28h-4zM1561 1622h9v28h-9zM1598 1622h4v23h-4zM783 1627h9v18h-9zM870 1627h4v9h-4zM893 1627h4v23h-4zM902 1627h4v23h-4zM1003 1627h4v27h-4zM1012 1627h4v23h-4zM1021 1627h14v23h-14zM1112 1627h14v4h-14zM1177 1627h4v4h-4zM1190 1627h9v4h-9zM1204 1627h9v4h-9zM1373 1627h5v18h-5zM1392 1627h9v23h-9zM1405 1627h10v23h-10zM1419 1627h18v23h-18zM1442 1627h41v23h-41zM1488 1627h4v23h-4zM1502 1627h9v23h-9zM1515 1627h5v23h-5zM1524 1627h19v18h-19zM1547 1627h14v18h-14zM1570 1627h28v18h-28zM1602 1627h14v23h-14zM1625 1627h14v27h-14zM1648 1627h5v27h-5zM760 1631h5v28h-5zM769 1631h14v19h-14zM906 1631h23v19h-23zM980 1631h23v19h-23zM1007 1631h5v19h-5zM1016 1631h5v19h-5zM1227 1631h4v5h-4zM1250 1631h36v5h-36zM1437 1631h5v23h-5zM1616 1631h9v23h-9zM1639 1631h9v23h-9zM1653 1631h4v28h-4zM1666 1631h14v23h-14zM755 1636h5v23h-5zM765 1636h4v18h-4zM929 1636h10v18h-10zM952 1636h5v28h-5zM961 1636h19v18h-19zM1071 1636h5v5h-5zM1263 1636h23v5h-23zM1296 1636h4v5h-4zM1657 1636h9v23h-9zM1680 1636h27v18h-27zM742 1641h13v23h-13zM939 1641h13v18h-13zM957 1641h4v23h-4zM1273 1641h4v4h-4zM1305 1641h4v4h-4zM1328 1641h4v4h-4zM1707 1641h19v18h-19zM1735 1641h5v27h-5zM728 1645h14v19h-14zM783 1645h4v5h-4zM1364 1645h5v5h-5zM1387 1645h5v5h-5zM1492 1645h5v5h-5zM1524 1645h10v5h-10zM1538 1645h5v5h-5zM1552 1645h9v5h-9zM1570 1645h23v5h-23zM1726 1645h9v23h-9zM1740 1645h9v28h-9zM1762 1645h5v28h-5zM714 1650h14v18h-14zM769 1650h9v4h-9zM916 1650h13v4h-13zM980 1650h9v4h-9zM993 1650h10v4h-10zM1021 1650h4v4h-4zM1396 1650h5v4h-5zM1405 1650h5v4h-5zM1433 1650h4v4h-4zM1442 1650h5v4h-5zM1460 1650h5v4h-5zM1556 1650h10v4h-10zM1607 1650h9v4h-9zM1749 1650h13v18h-13zM1767 1650h9v23h-9zM1781 1650h4v27h-4zM1804 1650h4v27h-4zM659 1654h5v28h-5zM700 1654h14v19h-14zM920 1654h9v5h-9zM934 1654h5v5h-5zM961 1654h14v5h-14zM980 1654h4v5h-4zM1639 1654h4v5h-4zM1675 1654h19v5h-19zM1698 1654h9v5h-9zM1776 1654h5v19h-5zM1785 1654h19v19h-19zM1808 1654h9v19h-9zM1822 1654h23v23h-23zM604 1659h5v27h-5zM632 1659h4v23h-4zM646 1659h13v18h-13zM664 1659h9v18h-9zM678 1659h22v18h-22zM943 1659h9v5h-9zM1712 1659h14v5h-14zM1817 1659h5v18h-5zM1845 1659h14v18h-14zM1863 1659h5v23h-5zM1872 1659h19v18h-19zM1900 1659h9v27h-9zM595 1664h9v22h-9zM609 1664h23v18h-23zM636 1664h10v18h-10zM673 1664h5v13h-5zM728 1664h9v4h-9zM742 1664h4v4h-4zM1721 1664h5v4h-5zM1859 1664h4v18h-4zM1868 1664h4v18h-4zM1891 1664h9v18h-9zM1909 1664h14v18h-14zM1927 1664h14v18h-14zM1946 1664h36v18h-36zM1996 1664h18v22h-18zM2028 1664h4v27h-4zM568 1668h4v18h-4zM577 1668h18v18h-18zM714 1668h9v5h-9zM1923 1668h4v18h-4zM1941 1668h5v18h-5zM1982 1668h14v18h-14zM2014 1668h14v18h-14zM2032 1668h19v23h-19zM2055 1668h10v23h-10zM2069 1668h14v23h-14zM2110 1668h5v28h-5zM2119 1668h10v23h-10zM2238 1668h5v28h-5zM540 1673h28v18h-28zM572 1673h5v13h-5zM700 1673h5v4h-5zM1794 1673h5v4h-5zM2051 1673h4v18h-4zM2065 1673h4v13h-4zM2083 1673h27v18h-27zM2115 1673h4v23h-4zM2129 1673h13v23h-13zM2147 1673h4v23h-4zM2156 1673h9v23h-9zM2170 1673h9v23h-9zM2188 1673h28v18h-28zM2220 1673h18v23h-18zM2243 1673h27v23h-27zM508 1677h5v23h-5zM517 1677h23v19h-23zM646 1677h4v5h-4zM655 1677h4v5h-4zM678 1677h4v5h-4zM1836 1677h4v5h-4zM1872 1677h14v5h-14zM2142 1677h5v23h-5zM2151 1677h5v19h-5zM2165 1677h5v19h-5zM2179 1677h9v19h-9zM2216 1677h4v19h-4zM2270 1677h1v14h-1zM495 1682h4v23h-4zM504 1682h4v18h-4zM513 1682h4v18h-4zM609 1682h5v4h-5zM618 1682h5v4h-5zM627 1682h5v4h-5zM1895 1682h5v4h-5zM1909 1682h4v4h-4zM1918 1682h5v4h-5zM1932 1682h9v4h-9zM1955 1682h27v4h-27zM458 1686h4v23h-4zM467 1686h5v19h-5zM476 1686h19v14h-19zM499 1686h5v14h-5zM1900 1686h4v5h-4zM1968 1686h5v5h-5zM1991 1686h5v5h-5zM2019 1686h9v5h-9zM192 1691h5v23h-5zM289 1691h4v23h-4zM430 1691h5v18h-5zM440 1691h18v18h-18zM462 1691h5v14h-5zM472 1691h4v18h-4zM540 1691h9v5h-9zM2074 1691h9v5h-9zM2092 1691h5v5h-5zM2101 1691h5v5h-5zM2119 1691h5v5h-5zM2188 1691h5v5h-5zM2197 1691h19v5h-19zM188 1696h4v18h-4zM197 1696h64v18h-64zM266 1696h23v18h-23zM293 1696h5v18h-5zM302 1696h14v18h-14zM321 1696h109v18h-109zM435 1696h5v18h-5zM527 1696h4v4h-4zM2211 1696h5v4h-5zM2252 1696h5v4h-5zM261 1700h5v19h-5zM298 1700h4v14h-4zM316 1700h5v14h-5zM476 1700h14v5h-14zM206 1714h9v5h-9zM234 1714h4v5h-4zM243 1714h9v5h-9zM266 1714h4v5h-4zM275 1714h4v5h-4zM284 1714h5v5h-5zM302 1714h9v5h-9zM330 1714h9v5h-9zM348 1714h5v5h-5zM371 1714h14v5h-14zM398 1714h5v5h-5z"/>
</g>
<g shape-rendering="crispEdges">
<path fill="#000000" d="M1826 101h161v9h-5v5h-152v-5h-4z"/>
<path fill="#1F3AFF" d="M1826 192h161v9h-5v5h-152v-5h-4z"/>
<path fill="#6BA616" d="M1830 284h152v5h5v9h-161v-9h4z"/>
<path fill="#E070FF" d="M1830 376h152v5h5v9h-161v-9h4z"/>
<path fill="#FF8000" d="M1826 472h161v9h-5v5h-152v-5h-4z"/>
<path fill="#FF0000" d="M1830 564h152v5h5v9h-161v-9h4z"/>
</g>
<g font-size="75">
<text x="1994.5" y="123.2" textLength="121.5" lengthAdjust="spacing">Res</text>
<text x="1994.5" y="219.6" textLength="265.5" lengthAdjust="spacing">R:T=1:2</text>
<text x="1994.5" y="311" textLength="265.5" lengthAdjust="spacing">R:T=2:3</text>
<text x="1994.5" y="403" textLength="265.5" lengthAdjust="spacing">R:T=3:2</text>
<text x="1994.5" y="498.5" textLength="265.5" lengthAdjust="spacing">R:T=2:1</text>
<text x="1994.5" y="590" textLength="107.4" lengthAdjust="spacing">TC</text>
</g>
<g font-size="95" text-anchor="middle">
<text x="381" y="1833" textLength="99" lengthAdjust="spacingAndGlyphs">10</text>
<text x="757.8" y="1833" textLength="99" lengthAdjust="spacingAndGlyphs">20</text>
<text x="1137.7" y="1833" textLength="99" lengthAdjust="spacingAndGlyphs">30</text>
<text x="1517" y="1833" textLength="99" lengthAdjust="spacingAndGlyphs">40</text>
<text x="1897.5" y="1833" textLength="99" lengthAdjust="spacingAndGlyphs">50</text>
<text x="2272" y="1833" textLength="99" lengthAdjust="spacingAndGlyphs">60</text>
</g>
<text x="1058" y="1988" font-size="107" textLength="266" lengthAdjust="spacing">2θ <tspan font-weight="normal">(</tspan>°<tspan font-weight="normal">)</tspan></text>
<text transform="translate(124,1158) rotate(-90)" font-size="110" textLength="679.5" lengthAdjust="spacing">Intensity <tspan font-weight="normal">(</tspan>cps<tspan font-weight="normal">)</tspan></text>
</svg>
</body></html>
